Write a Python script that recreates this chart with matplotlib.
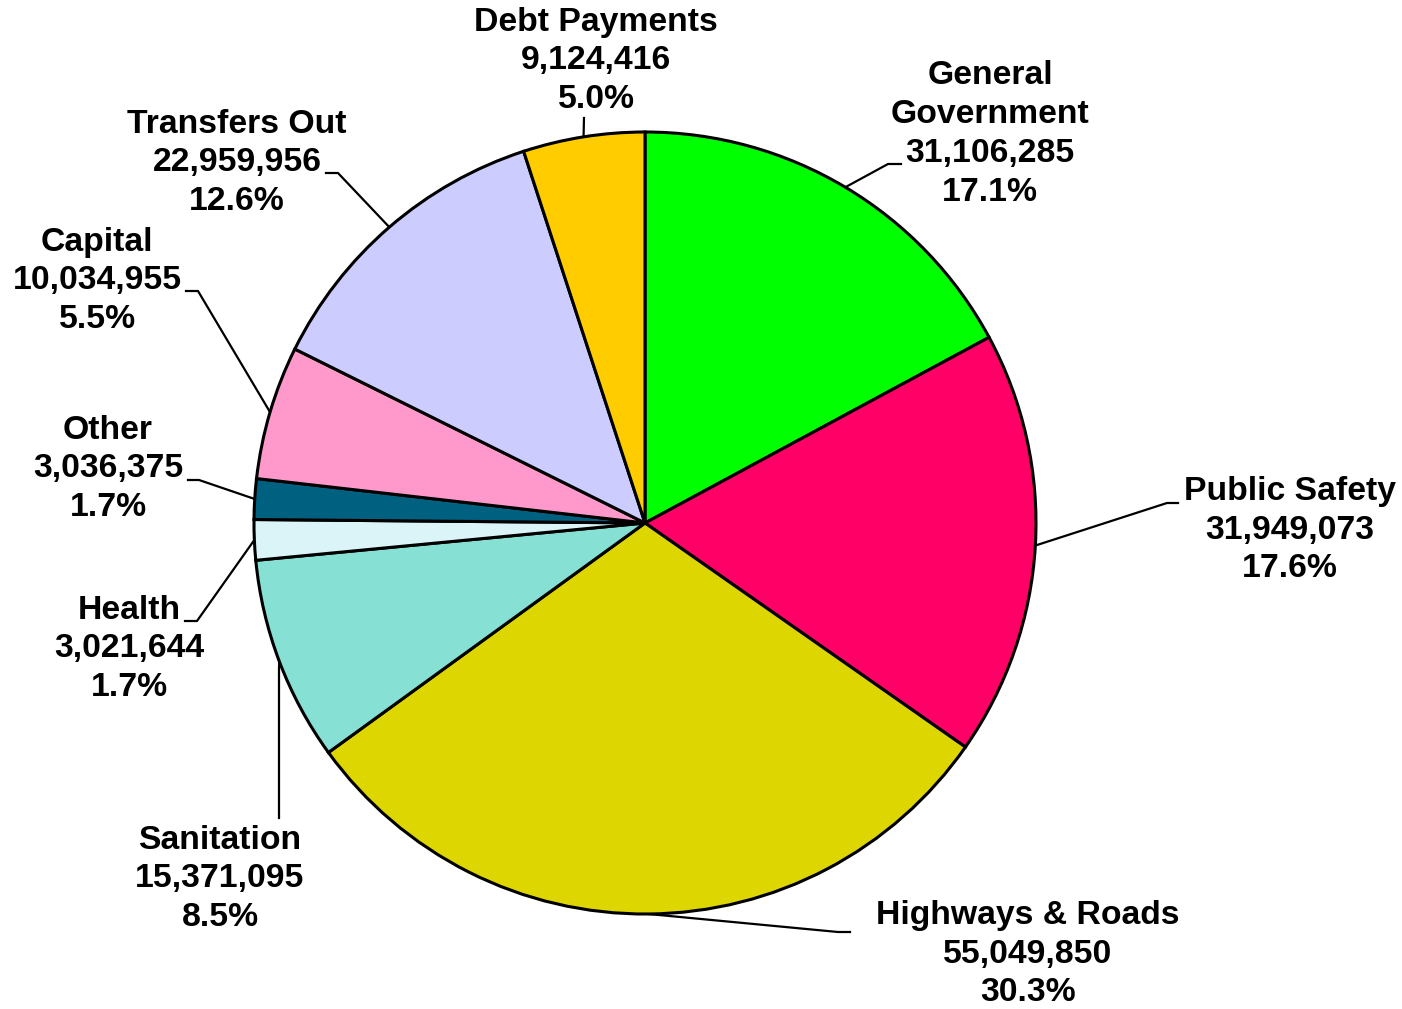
import matplotlib.pyplot as plt
import numpy as np

# Budget categories, clockwise from 12 o'clock
categories = ['General\nGovernment', 'Public Safety', 'Highways & Roads', 'Sanitation',
              'Health', 'Other', 'Capital', 'Transfers Out', 'Debt Payments']
amounts = [31106285, 31949073, 55049850, 15371095, 3021644, 3036375,
           10034955, 22959956, 9124416]
colors = ['#00FF00', '#FF0066', '#DED600', '#86E0D3', '#DAF4F7', '#006080',
          '#FF99CC', '#CCCCFF', '#FFCC00']

# label layout in pixel coords (y downwards): text centre, elbow, line end near text
label_xy = [(990, 134), (1290, 530), (1028, 954), (220, 879), (129, 649),
            (108, 469), (97, 281), (237, 163), (596, 61)]
elbow = [(888, 164), (1167, 503), (838, 932), (279, 668), (197, 621),
         (199, 480), (198, 291), (338, 173), (584, 118)]
line_end = [(901, 164), (1178, 503), (850, 932), (279, 818), (185, 621),
            (188, 480), (186, 291), (326, 173), (584, 118)]

W, H = 1402, 1009
fig = plt.figure(figsize=(W / 100, H / 100), dpi=100)
ax = fig.add_axes([0, 0, 1, 1])

cx, cy, r = 645, H - 523, 391
wedges, _ = ax.pie(amounts, colors=colors, startangle=90, counterclock=False,
                   center=(cx, cy), radius=r, frame=True,
                   wedgeprops=dict(edgecolor='black', linewidth=2.2))
ax.set_xlim(0, W)
ax.set_ylim(0, H)
ax.axis('off')

total = sum(amounts)
for w, name, amt, (tx, ty), (ex, ey), (lx, ly) in zip(wedges, categories, amounts,
                                                      label_xy, elbow, line_end):
    ang = np.deg2rad((w.theta1 + w.theta2) / 2)
    px, py = cx + r * np.cos(ang), cy + r * np.sin(ang)
    ax.plot([px, ex, lx], [py, H - ey, H - ly], color='black', lw=1.6, zorder=0.5)
    txt = f"{name}\n{amt:,}\n{amt / total * 100:.1f}%"
    ax.text(tx, H - ty, txt, ha='center', va='center', fontsize=24.3,
            fontweight='bold', family='Liberation Sans', linespacing=1.33)

fig.savefig('out.png', dpi=100)
